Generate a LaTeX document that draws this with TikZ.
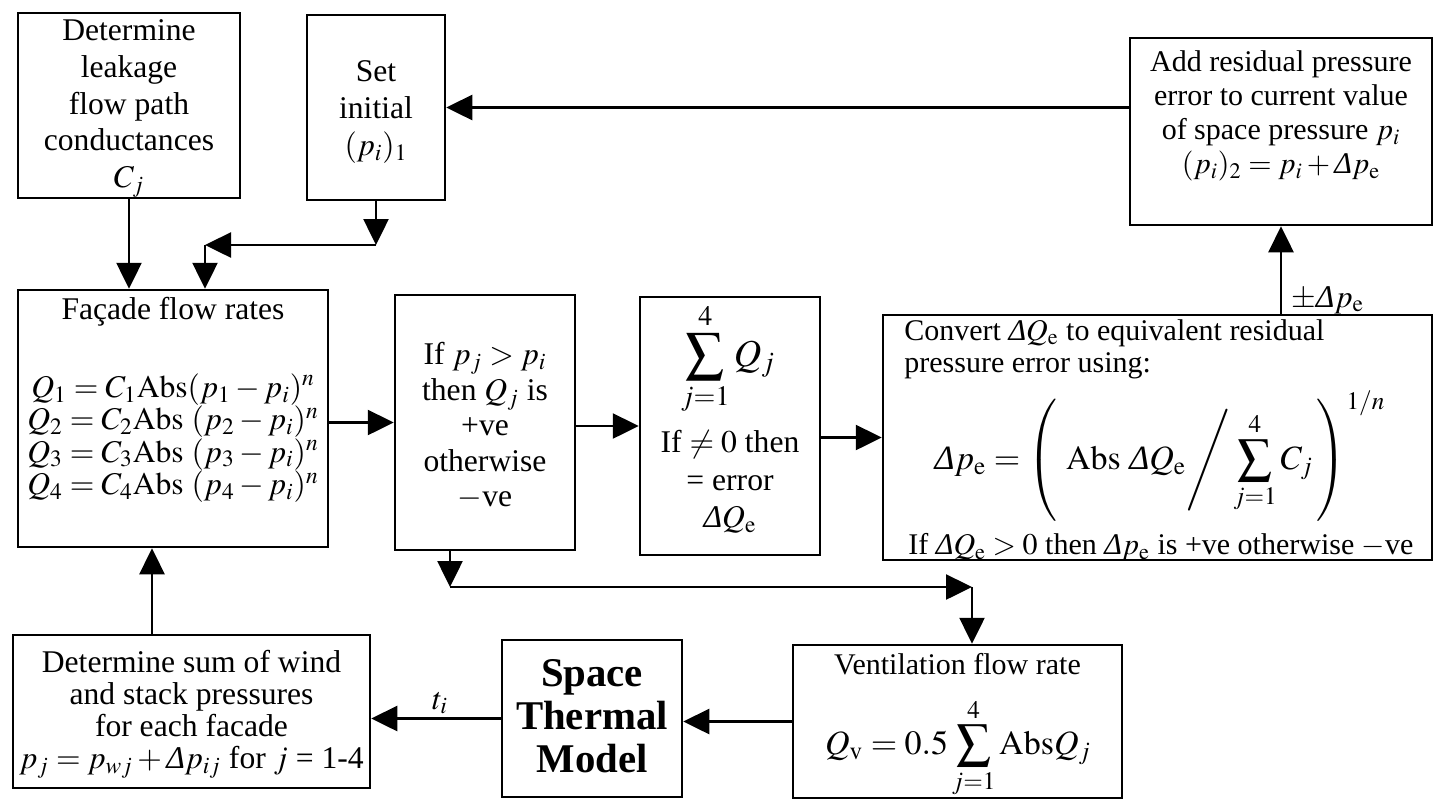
\documentclass[tikz,border=0pt]{standalone}
\usepackage{amsmath}
\usepackage{mathptmx}
\usepackage{fontspec}
\setmainfont{Liberation Serif}
\usetikzlibrary{arrows.meta}
\newcommand{\Dl}{\mbox{\itshape Δ}}
\newcommand{\sz}[2]{\fontsize{#1}{#2}\selectfont}
\begin{document}
\begin{tikzpicture}[x=0.5pt,y=-0.5pt,
  box/.style={draw, line width=1.25pt, rectangle, inner sep=0pt},
  txt/.style={align=center, inner sep=0pt, font=\sz{15.8pt}{18.3pt}},
  arr/.style={-{Triangle[length=13pt,width=12.5pt]}, line width=1.25pt}]
\useasboundingbox (0,0) rectangle (1439,800);

% boxes
\node[box, minimum width=111pt, minimum height=92.5pt] (A) at (129,105.5) {};
\node[box, minimum width=69pt, minimum height=92.5pt] (B) at (376,107.5) {};
\node[box, minimum width=151pt, minimum height=93.5pt] (C) at (1281,131.5) {};
\node[box, minimum width=155pt, minimum height=128.5pt] (D) at (173,418.5) {};
\node[box, minimum width=90pt, minimum height=127.5pt] (E) at (485,422.5) {};
\node[box, minimum width=90pt, minimum height=129pt] (F) at (730,426) {};
\node[box, minimum width=274.5pt, minimum height=122.5pt] (G) at (1157.5,437.5) {};
\node[box, minimum width=178.5pt, minimum height=76.5pt] (H) at (191.5,711.5) {};
\node[box, minimum width=90pt, minimum height=78.5pt] (I) at (592,718.5) {};
\node[box, minimum width=164.5pt, minimum height=76.5pt] (J) at (957.5,721.5) {};

% texts
\node[txt] (At) at (129,108.5) {Determine\\leakage\\flow path\\conductances\\$C_j$};
\node[txt, font=\sz{15.8pt}{18.5pt}] (Bt) at (376,112) {Set\\initial\\$(p_i)_1$};
\node[txt, font=\sz{15pt}{17pt}] (Ct) at (1281,116) {Add residual pressure\\error to current value\\of space pressure $p_i$\\$(p_i)_2 = p_i + \Dl p_\mathrm{e}$};
\node[txt] (Dt) at (173,312) {Façade flow rates};
\node[txt, font=\sz{15.8pt}{16.2pt}] (Dq) at (173,438) {$Q_1 = C_1\mathrm{Abs}(p_1 - p_i)^n$\\$Q_2 = C_2\mathrm{Abs}\ (p_2 - p_i)^n$\\$Q_3 = C_3\mathrm{Abs}\ (p_3 - p_i)^n$\\$Q_4 = C_4\mathrm{Abs}\ (p_4 - p_i)^n$};
\node[txt, font=\sz{15.8pt}{17.75pt}] (Et) at (485,426) {If $p_j > p_i$\\then $Q_j$\ is\\+ve\\otherwise\\$-$ve};
\node[txt, font=\sz{19pt}{21pt}] (Fs) at (728,359) {$\displaystyle\sum_{j=1}^{4} Q_j$};
\node[txt, font=\sz{15.8pt}{18.8pt}] (Ft) at (730,482) {If $\neq 0$ then\\= error\\$\Dl Q_\mathrm{e}$};
\node[txt, font=\sz{15pt}{17pt}, anchor=west] (Gt1) at (904,333) {Convert $\Dl Q_\mathrm{e}$ to equivalent residual};
\node[txt, font=\sz{15pt}{17pt}, anchor=west] (Gt2) at (904,366) {pressure error using:};
\node[txt, font=\sz{17pt}{20pt}] (Gf) at (1160,456) {$\displaystyle \Dl p_\mathrm{e} = \left(\vrule height 26pt depth 25pt width 0pt\ \mathrm{Abs}\ \Dl Q_\mathrm{e}\Bigg/\sum_{j=1}^{4}C_j\,\right)^{1/n}$};
\node[txt, font=\sz{15pt}{17pt}, anchor=west] (Gt3) at (908,547) {If $\Dl Q_\mathrm{e} > 0$ then $\Dl p_\mathrm{e}$ is +ve otherwise $-$ve};
\node[txt, font=\sz{15.8pt}{16pt}] (Ht) at (191.5,714) {Determine sum of wind\\and stack pressures\\for each facade\\$p_j = p_{wj} + \Dl p_{ij}$ for $j$ = 1-4};
\node[txt, font=\sz{20.4pt}{21.5pt}\bfseries] (It) at (592,716) {Space\\Thermal\\Model};
\node[txt, font=\sz{15pt}{17pt}] (Jt) at (957.5,664) {Ventilation flow rate};
\node[txt, font=\sz{17pt}{20pt}] (Jf) at (958,748) {$\displaystyle Q_\mathrm{v} = 0.5\sum_{j=1}^{4}\mathrm{Abs}Q_j$};

% connectors
\draw[arr] (A.south) -- (A.south |- D.north);
\coordinate (k1) at (376,245);
\coordinate (k2) at (205,245);
\draw[arr] (B.south) -- (k1);
\draw[arr] (k1) -- (k2);
\draw[arr] (k2) -- (k2 |- D.north);
\draw[arr] (B.east -| C.west) -- (B.east);
\draw[arr] (C.south |- G.north) -- (C.south);
\node[txt, anchor=south west] (pm) at (1291,314) {$\pm\Dl p_\mathrm{e}$};
\draw[arr] (D.east |- E.west) -- (E.west);
\draw[arr] (E.east |- F.west) -- (F.west);
\draw[arr] (F.east |- G.west) -- (G.west);
\coordinate (k3) at (450,587);
\coordinate (k4) at (972,587);
\draw[arr] (k3 |- E.south) -- (k3);
\draw[arr] (k3) -- (k4);
\draw[arr] (k4) -- (k4 |- J.north);
\draw[arr] (J.west) -- (J.west -| I.east);
\draw[arr] (I.west) -- (I.west -| H.east);
\node[txt] (ti) at (440,703) {$t_i$};
\coordinate (k5) at (152,0);
\draw[arr] (k5 |- H.north) -- (k5 |- D.south);
\end{tikzpicture}
\end{document}
